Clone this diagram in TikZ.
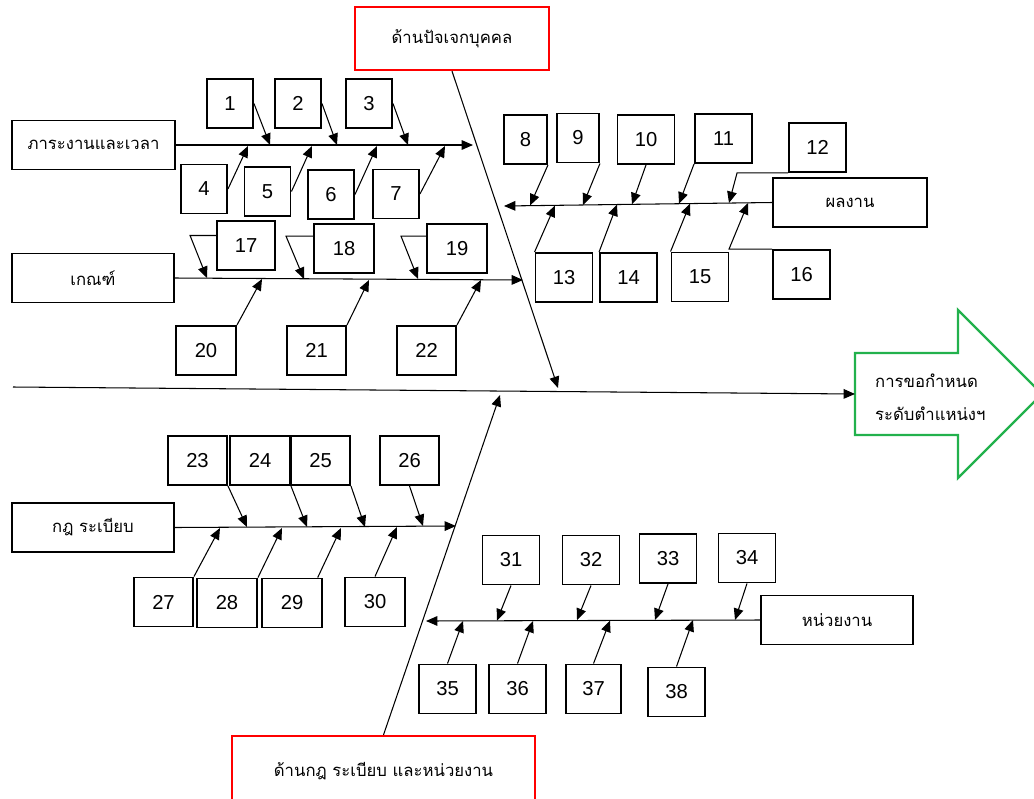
\documentclass[tikz,border=0pt]{standalone}
\usepackage{fontspec}
\setmainfont{Liberation Sans}
\newfontfamily\thaifont[Script=Thai]{Loma}
\usetikzlibrary{arrows.meta}
\definecolor{arrowgreen}{RGB}{34,177,76}

\tikzset{
  numbox/.style={draw, line width=1.1pt, minimum width=1.14cm, minimum height=0.98cm, inner sep=0pt, font=\fontsize{11.5}{13}\selectfont},
  smallbox/.style={numbox, minimum width=0.92cm},
  catbox/.style={draw, line width=1.1pt, minimum width=3.24cm, minimum height=0.98cm, font=\thaifont\fontsize{9.5}{12}\selectfont},
  headbox/.style={draw=red, line width=1.3pt, font=\thaifont\fontsize{9.5}{12}\selectfont},
  bone/.style={line width=0.6pt, ->}
}

\begin{document}
\begin{tikzpicture}[x=0.02cm, y=-0.02cm, >={Triangle[length=6.5pt,width=5.5pt]}]
    \useasboundingbox (0,0) rectangle (1034,798);
    % head boxes
    \node[headbox, minimum width=3.88cm, minimum height=1.26cm] (person) at (452,38.5) {ด้านปัจเจกบุคคล};
    \node[headbox, minimum width=6.06cm, minimum height=1.4cm] (rulesunit) at (383.5,771) {ด้านกฎ ระเบียบ และหน่วยงาน};
    \draw[draw=arrowgreen, line width=1.3pt] (855,353) -- (958,353) -- (958,310) -- (1042,394)
        -- (958,478) -- (958,435) -- (855,435) -- cycle;
    \node[anchor=west, align=left, font=\thaifont\fontsize{9.5}{18.5}\selectfont] (goal) at (869,397) {การขอกำหนด\\ระดับตำแหน่งฯ};
    \coordinate (tail) at (13,387);
    \coordinate (head) at (855,394);
    \coordinate (topend) at (558,388);
    \coordinate (botend) at (500,395);
    \draw[bone] (tail) -- (head);
    \draw[bone] (person.south) -- (topend);
    \draw[bone] (rulesunit.north) -- (botend);

    % ภาระงานและเวลา
    \node[catbox, minimum width=3.26cm] (workload) at (93.5,145) {ภาระงานและเวลา};
    \coordinate (w1) at (473,145);
    \draw[bone] (workload.east) -- (w1);
    \node[smallbox] (n1) at (230,103.5) {1};
    \node[smallbox] (n2) at (298,103.5) {2};
    \node[smallbox] (n3) at (369,103.5) {3};
    \node[smallbox] (n4) at (204,189) {4};
    \node[smallbox] (n5) at (267.5,191.5) {5};
    \node[smallbox] (n6) at (331,194.5) {6};
    \node[smallbox] (n7) at (396,194) {7};
    \coordinate (t1) at (270,145);
    \coordinate (t2) at (337,145);
    \coordinate (t3) at (408,145);
    \coordinate (t4) at (248,146);
    \coordinate (t5) at (312,146);
    \coordinate (t6) at (377,146);
    \coordinate (t7) at (445,146);
    \draw[bone] (n1.east) -- (t1);
    \draw[bone] (n2.east) -- (t2);
    \draw[bone] (n3.east) -- (t3);
    \draw[bone] (n4.east) -- (t4);
    \draw[bone] (n5.east) -- (t5);
    \draw[bone] (n6.east) -- (t6);
    \draw[bone] (n7.east) -- (t7);

    % เกณฑ์
    \node[catbox] (criteria) at (93,278) {เกณฑ์};
    \coordinate (w2) at (523,280);
    \draw[bone] (criteria.east) -- (w2);
    \node[numbox, minimum width=1.16cm] (n17) at (246,245.5) {17};
    \node[numbox, minimum width=1.2cm] (n18) at (344,248.5) {18};
    \node[numbox, minimum width=1.2cm] (n19) at (457,248.5) {19};
    \node[numbox, minimum width=1.2cm] (n20) at (206,350.5) {20};
    \node[numbox, minimum width=1.18cm] (n21) at (316.5,350.5) {21};
    \node[numbox, minimum width=1.18cm] (n22) at (426.5,350.5) {22};
    \coordinate (t17) at (207,278);
    \coordinate (t18) at (304,279);
    \coordinate (t19) at (418,279);
    \coordinate (t20) at (262,279);
    \coordinate (t21) at (369,280);
    \coordinate (t22) at (481,280);
    \draw[bone] ([yshift=5.7pt]n17.west) -- ++(-26,0) -- (t17);
    \draw[bone] ([yshift=7pt]n18.west) -- ++(-27,0) -- (t18);
    \draw[bone] ([yshift=7pt]n19.west) -- ++(-25,0) -- (t19);
    \draw[bone] (n20.north east) -- (t20);
    \draw[bone] (n21.north east) -- (t21);
    \draw[bone] (n22.north east) -- (t22);

    % ผลงาน
    \node[catbox, minimum width=3.08cm] (result) at (850,202.5) {ผลงาน};
    \coordinate (w3) at (504,206);
    \draw[bone] (result.west) -- (w3);
    \node[smallbox, minimum width=0.86cm] (n8) at (525.5,139.5) {8};
    \node[smallbox, minimum width=0.84cm] (n9) at (578,138) {9};
    \node[numbox] (n10) at (646,139.5) {10};
    \node[numbox] (n11) at (723.5,138.5) {11};
    \node[numbox] (n12) at (817.5,147.5) {12};
    \node[numbox] (n13) at (564,277.5) {13};
    \node[numbox] (n14) at (628.5,277.5) {14};
    \node[numbox] (n15) at (700,277) {15};
    \node[numbox] (n16) at (801.5,274.5) {16};
    \coordinate (t8) at (530,205.5);
    \coordinate (t9) at (583,205);
    \coordinate (t10) at (632,204.3);
    \coordinate (t11) at (679,203.7);
    \coordinate (t12) at (729,203);
    \coordinate (t13) at (555,205.5);
    \coordinate (t14) at (617,204.5);
    \coordinate (t15) at (690,203.6);
    \coordinate (t16) at (748,203);
    \draw[bone] (n8.south east) -- (t8);
    \draw[bone] (n9.south east) -- (t9);
    \draw[bone] (n10.south) -- (t10);
    \draw[bone] (n11.south west) -- (t11);
    \draw[bone] (n12.south west) -- ++(-51,0) -- (t12);
    \draw[bone] (n13.north west) -- (t13);
    \draw[bone] (n14.north west) -- (t14);
    \draw[bone] (n15.north west) -- (t15);
    \draw[bone] (n16.north west) -- ++(-43,0) -- (t16);

    % กฎ ระเบียบ
    \node[catbox] (rules) at (93,527.5) {กฎ ระเบียบ};
    \coordinate (w4) at (456,526);
    \draw[bone] (rules.east) -- (w4);
    \node[numbox, minimum width=1.18cm] (n23) at (197.5,460.5) {23};
    \node[numbox, minimum width=1.2cm] (n24) at (260,460.5) {24};
    \node[numbox, minimum width=1.18cm] (n25) at (320.5,460.5) {25};
    \node[numbox, minimum width=1.18cm] (n26) at (409.5,460.5) {26};
    \node[numbox, minimum width=1.18cm] (n27) at (163.5,602) {27};
    \node[numbox, minimum width=1.2cm] (n28) at (227,603) {28};
    \node[numbox, minimum width=1.2cm] (n29) at (292,603) {29};
    \node[numbox, minimum width=1.2cm] (n30) at (375,602) {30};
    \coordinate (t23) at (247,527);
    \coordinate (t24) at (307,527);
    \coordinate (t25) at (365,527);
    \coordinate (t26) at (423,526);
    \coordinate (t27) at (220,528);
    \coordinate (t28) at (282,528);
    \coordinate (t29) at (341,528);
    \coordinate (t30) at (397,527);
    \draw[bone] (n23.south east) -- (t23);
    \draw[bone] (n24.south east) -- (t24);
    \draw[bone] (n25.south east) -- (t25);
    \draw[bone] (n26.south) -- (t26);
    \draw[bone] (n27.north east) -- (t27);
    \draw[bone] (n28.north east) -- (t28);
    \draw[bone] ([xshift=-3pt]n29.north east) -- (t29);
    \draw[bone] (n30.north) -- (t30);

    % หน่วยงาน
    \node[catbox, minimum width=3.04cm] (unit) at (837,620) {หน่วยงาน};
    \coordinate (w5) at (426,621);
    \draw[bone] (unit.west) -- (w5);
    \node[numbox] (n31) at (511,560) {31};
    \node[numbox] (n32) at (591,560) {32};
    \node[numbox] (n33) at (668,558.5) {33};
    \node[numbox] (n34) at (747,558) {34};
    \node[numbox] (n35) at (447.5,689) {35};
    \node[numbox] (n36) at (517.5,689) {36};
    \node[numbox, minimum width=1.1cm] (n37) at (593.5,689) {37};
    \node[numbox] (n38) at (676.5,692) {38};
    \coordinate (t31) at (497,620.5);
    \coordinate (t32) at (577,620);
    \coordinate (t33) at (655,620);
    \coordinate (t34) at (735,620);
    \coordinate (t35) at (463,621);
    \coordinate (t36) at (533,621);
    \coordinate (t37) at (610,620.5);
    \coordinate (t38) at (693,620);
    \draw[bone] (n31.south) -- (t31);
    \draw[bone] (n32.south) -- (t32);
    \draw[bone] (n33.south) -- (t33);
    \draw[bone] (n34.south) -- (t34);
    \draw[bone] (n35.north) -- (t35);
    \draw[bone] (n36.north) -- (t36);
    \draw[bone] (n37.north) -- (t37);
    \draw[bone] (n38.north) -- (t38);
\end{tikzpicture}
\end{document}
